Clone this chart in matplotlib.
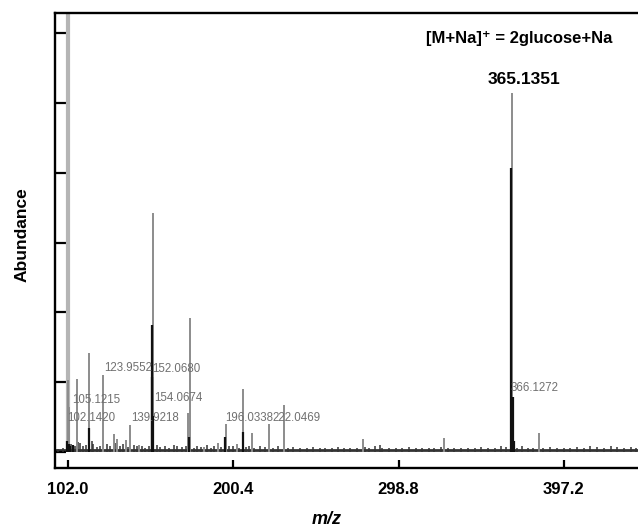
import matplotlib
matplotlib.use("Agg")
import matplotlib.pyplot as plt

plt.rcParams['font.family'] = ['Liberation Sans', 'DejaVu Sans']

# gray stick spectrum (m/z, abundance; 10 units per y tick)
gray_mz = [101.8, 102.7, 107.2, 114.5, 123.0, 129.6, 131.0, 136.3, 139.1,
           144.4, 152.4, 173.6, 174.6, 183.0, 191.1, 195.9, 202.8, 206.0, 211.7,
           221.8, 230.8, 277.4, 326.0, 366.0, 382.4]
gray_ab = [10.3, 6.4, 10.5, 14.2, 11.0, 2.6, 1.9, 1.7, 3.9,
           1.0, 34.3, 5.6, 19.2, 0.7, 1.3, 4.0, 1.1, 9.0, 2.7,
           4.0, 6.7, 1.9, 2.0, 51.4, 2.7]

# off-scale peak at the low end
offscale_mz = [102.2]
offscale_ab = [80.0]

# black stick spectrum
black_mz = [101.5, 102.3, 103.0, 105.0, 114.5, 151.9, 152.2, 152.8, 173.8, 195.5,
            206.0, 365.8, 366.9, 367.4]
black_ab = [1.6, 1.2, 0.9, 1.0, 3.4, 18.2, 10.8, 5.1, 2.1, 2.1,
            2.9, 40.7, 7.9, 1.5]

# baseline noise
noise_mz = [96, 99, 104, 106, 108, 109, 111, 113, 116, 117, 119, 121, 125, 127, 130,
            133, 135, 138, 141, 143, 146, 148, 150, 155, 157, 160, 162, 165, 167, 170,
            172, 177, 179, 181, 185, 187, 189, 193, 198, 200, 204, 208, 210, 213, 216,
            219, 224, 227, 233, 236, 240, 244, 248, 252, 255, 259, 263, 266, 270, 274,
            279, 281, 285, 287.5, 289, 293, 297, 301, 305, 309, 313, 317, 320, 324, 328,
            332, 336, 340, 344, 348, 352, 356, 360, 363, 369, 372, 376, 379, 385, 389,
            393, 397, 401, 405, 409, 413, 417, 421, 425, 429, 433, 437, 440]
noise_ab = [0.4, 0.6, 1.1, 0.9, 1.4, 1.3, 0.8, 1.0, 1.5, 1.2, 0.7, 0.9, 1.1, 0.8, 1.3,
            0.9, 1.2, 0.7, 1.0, 0.8, 0.9, 0.6, 0.8, 1.0, 0.7, 0.9, 0.6, 1.0, 0.8, 0.7,
            0.9, 0.6, 0.8, 0.7, 1.0, 0.6, 0.8, 0.7, 0.9, 0.8, 0.6, 0.7, 0.9, 0.6, 0.8,
            0.7, 0.6, 0.8, 0.5, 0.7, 0.6, 0.5, 0.7, 0.6, 0.5, 0.6, 0.7, 0.5, 0.6, 0.5,
            0.7, 0.6, 0.8, 1.0, 0.6, 0.5, 0.6, 0.5, 0.7, 0.5, 0.6, 0.5, 0.6, 0.7, 0.5,
            0.6, 0.5, 0.6, 0.5, 0.7, 0.5, 0.6, 0.8, 0.7, 0.6, 0.8, 0.6, 0.5, 0.6, 0.7,
            0.6, 0.5, 0.6, 0.7, 0.6, 0.8, 0.7, 0.6, 0.8, 0.7, 0.6, 0.7, 0.6]

# peak labels
peak_labels = ['123.9552', '152.0680', '105.1215', '154.0674', '102.1420',
               '139.9218', '196.0338', '222.0469', '366.1272']
label_levels = [12.0, 11.9, 7.5, 7.8, 4.8, 4.8, 4.8, 4.8, 9.2]
label_shift = [-0.6, -0.1, -0.6, -0.6, -0.6, -0.6, -0.6, 1.4, -0.6]

x_ticks = [102.0, 200.4, 298.8, 397.2]

fig = plt.figure(figsize=(6.38, 5.29), dpi=100)
ax = fig.add_axes([55 / 638, 61 / 529, 583 / 638, 455 / 529])

ax.axhline(0.3, color='#333333', lw=2.0, zorder=1)
ax.vlines(noise_mz, 0, noise_ab, color='#333333', lw=1.1, zorder=2)
ax.vlines(offscale_mz, 0, offscale_ab, color='#b5b5b5', lw=3.0, zorder=2)
ax.vlines(gray_mz, 0, gray_ab, color='#8c8c8c', lw=1.4, zorder=3)
ax.vlines(black_mz, 0, black_ab, color='#111111', lw=1.6, zorder=4)

for txt, lvl, dx in zip(peak_labels, label_levels, label_shift):
    ax.text(float(txt) + dx, lvl, txt, fontsize=8.3, color='#707070',
            ha='left', va='center', zorder=5)

ax.text(373.3, 53.3, '365.1351', fontsize=12.5, fontweight='bold',
        ha='center', va='center')
ax.text(0.796, 0.945, '[M+Na]\u207a = 2glucose+Na', transform=ax.transAxes,
        fontsize=12, fontweight='bold', ha='center', va='center',
        family=['Liberation Sans', 'DejaVu Sans'])

ax.set_xlim(94.26, 441.3)
ax.set_ylim(-2.3, 62.9)
ax.set_xticks(x_ticks)
ax.set_xticklabels(['%.1f' % t for t in x_ticks], fontsize=12, fontweight='bold')
ax.set_yticks([0, 10, 20, 30, 40, 50, 60])
ax.set_yticklabels([])
ax.tick_params(axis='x', direction='in', length=6, width=1.6, pad=10)
ax.tick_params(axis='y', direction='in', length=8, width=1.6)
ax.spines['right'].set_visible(False)
for s in ['left', 'top', 'bottom']:
    ax.spines[s].set_linewidth(1.7)

fig.text(22 / 638, 1 - 235 / 529, 'Abundance', rotation=90, fontsize=12.5,
         fontweight='bold', ha='center', va='center')
fig.text(327 / 638, 1 - 520 / 529, 'm/z', fontsize=13, fontweight='bold',
         fontstyle='italic', ha='center', va='center')

fig.savefig('out.png', dpi=100)
